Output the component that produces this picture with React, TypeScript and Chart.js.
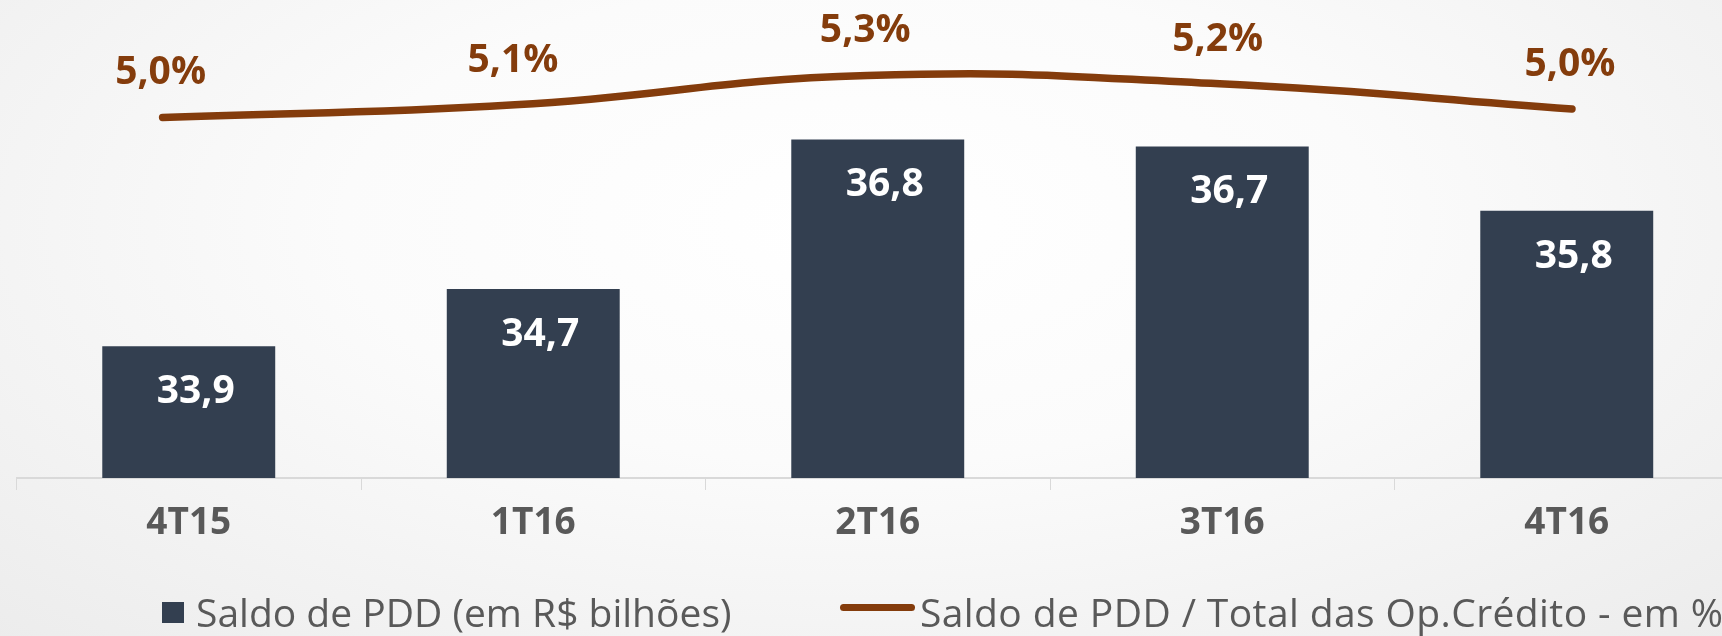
import React, { useEffect, useRef } from "react";
import { Chart, registerables } from "chart.js";

Chart.register(...registerables);

const categories = ["4T15", "1T16", "2T16", "3T16", "4T16"];
const saldoPDD = [33.9, 34.7, 36.8, 36.7, 35.8];
const saldoPct = [4.97, 5.06, 5.27, 5.21, 5.03];
const legendLabels = [
  "Saldo de PDD (em R$ bilhões)",
  "Saldo de PDD / Total das Op.Crédito - em %",
];

const BAR_COLOR = "#333F50";
const LINE_COLOR = "#843C0C";
const TEXT_GRAY = "#595959";

const fmt = (v: number) => v.toFixed(1).replace(".", ",");

const labelPlugin = {
  id: "valueLabels",
  afterDatasetsDraw(chart: any) {
    const ctx = chart.ctx;
    ctx.save();
    ctx.textAlign = "center";
    ctx.textBaseline = "alphabetic";
    ctx.font = "bold 39px 'Open Sans'";
    const capHalf = 0.357 * 39;
    ctx.fillStyle = "#ffffff";
    chart.getDatasetMeta(0).data.forEach((el: any, i: number) => {
      ctx.fillText(fmt(saldoPDD[i]), el.x + 7, el.y + 43 + capHalf);
    });
    ctx.fillStyle = LINE_COLOR;
    chart.getDatasetMeta(1).data.forEach((el: any, i: number) => {
      ctx.fillText(fmt(saldoPct[i]) + "%", el.x - 2, el.y - 47 + capHalf);
    });
    ctx.restore();
  },
};

export default function App() {
  const canvasRef = useRef<HTMLCanvasElement | null>(null);

  useEffect(() => {
    if (!canvasRef.current) return;
    const chart = new Chart(canvasRef.current, {
      type: "bar",
      data: {
        labels: categories,
        datasets: [
          {
            type: "bar",
            label: legendLabels[0],
            data: saldoPDD,
            backgroundColor: BAR_COLOR,
            xAxisID: "x",
            yAxisID: "y",
            grouped: false,
            categoryPercentage: 1,
            barPercentage: 0.502,
            order: 2,
          },
          {
            type: "line",
            label: legendLabels[1],
            data: saldoPct.map((v, i) => ({ x: i, y: v })),
            borderColor: LINE_COLOR,
            borderWidth: 7.5,
            borderCapStyle: "round",
            pointRadius: 0,
            tension: 0.45,
            fill: false,
            xAxisID: "xl",
            yAxisID: "yl",
            order: 1,
          } as any,
        ],
      },
      options: {
        responsive: false,
        animation: false,
        devicePixelRatio: 1,
        layout: { padding: { left: 16.5, right: 21, top: 14, bottom: 79.6 } },
        plugins: {
          legend: { display: false },
          tooltip: { enabled: false },
        },
        scales: {
          x: {
            type: "category",
            offset: true,
            grid: {
              display: true,
              drawOnChartArea: false,
              drawTicks: true,
              tickLength: 12,
              color: "#d9d9d9",
              lineWidth: 1,
              offset: true,
            },
            border: { display: true, color: "#d9d9d9", width: 2 },
            ticks: {
              color: TEXT_GRAY,
              padding: 11,
              font: { family: "'Open Sans'", weight: "bold", size: 37 },
            },
          },
          xl: {
            type: "linear",
            display: false,
            offset: false,
            bounds: "data",
            grid: { offset: false },
            min: -0.4146,
            max: 4.474,
          },
          y: { display: false, min: 32.05, max: 38.56 },
          yl: { display: false, min: 2.395, max: 5.709 },
        },
      } as any,
      plugins: [labelPlugin],
    });
    return () => chart.destroy();
  }, []);

  const textStyle: React.CSSProperties = {
    position: "absolute",
    top: 592.4,
    fontFamily: "'Open Sans'",
    fontSize: 39,
    lineHeight: 1,
    color: TEXT_GRAY,
    whiteSpace: "nowrap",
  };

  return (
    <div
      style={{
        position: "fixed",
        left: 0,
        top: 0,
        width: 1722,
        height: 636,
        overflow: "hidden",
        background:
          "radial-gradient(ellipse 75% 95% at 50% 35%, #ffffff 0%, #fbfbfb 40%, #ebebeb 100%)",
      }}
    >
      <canvas
        ref={canvasRef}
        width={1760}
        height={636}
        style={{ position: "absolute", left: 0, top: 0, width: 1760, height: 636 }}
      />
      <div
        style={{
          position: "absolute",
          left: 162,
          top: 602,
          width: 22,
          height: 21,
          background: BAR_COLOR,
        }}
      />
      <div style={{ ...textStyle, left: 196 }}>{legendLabels[0]}</div>
      <div
        style={{
          position: "absolute",
          left: 840,
          top: 603.5,
          width: 75,
          height: 7,
          borderRadius: 3.5,
          background: LINE_COLOR,
        }}
      />
      <div style={{ ...textStyle, left: 920, letterSpacing: 0.4 }}>{legendLabels[1]}</div>
    </div>
  );
}
